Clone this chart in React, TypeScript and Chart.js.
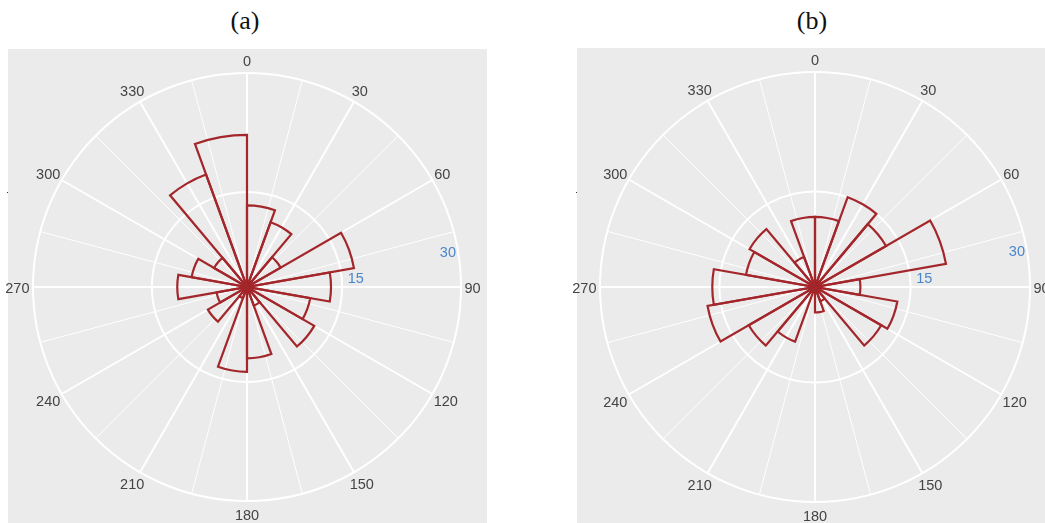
import React, { useEffect, useRef } from 'react';
import { Chart, registerables } from 'chart.js';

Chart.register(...registerables);

// Angular grid: a spoke every 15 degrees (clockwise from north), labels every 30
const directionTicks = [
  '0', '15', '30', '45', '60', '75', '90', '105', '120', '135', '150', '165',
  '180', '195', '210', '225', '240', '255', '270', '285', '300', '315', '330', '345',
];
const shownDirections = ['0', '30', '60', '90', '120', '150', '180', '210', '240', '270', '300', '330'];

// 18 direction bins of 20 degrees: 0-20, 20-40, ..., 340-360
const binStarts = [0, 20, 40, 60, 80, 100, 120, 140, 160, 180, 200, 220, 240, 260, 280, 300, 320, 340];

// Panel (a) counts per bin
const countsA = [13.3, 11.7, 7.9, 16.7, 13.6, 11.1, 12.8, 5.5, 12.0, 13.7, 4.5, 8.7, 6.9, 11.8, 10.1, 7.8, 18.1, 22.2];
// Panel (b) counts per bin
const countsB = [11.8, 15.0, 13.3, 19.7, 8.7, 13.5, 12.6, 4.9, 6.2, 3.5, 10.3, 12.6, 16.7, 15.9, 11.8, 12.5, 7.0, 11.8];

// Radial axis
const radialMin = 3;
const radialMax = 30;
const radialTicks = [15, 30];

const titles = ['(a)', '(b)'];

const BAR_COLOR = '#a3262b';
const GRID_COLOR = '#ffffff';
const PANEL_BG = '#ebebeb';
const TEXT_COLOR = '#444444';
const TICK_COLOR = '#4a86cc';
const FONT = '14.5px "Liberation Sans", Arial, Helvetica, sans-serif';

const panelBg = {
  id: 'panelBg',
  beforeDraw(chart: any, _args: any, opts: any) {
    const ctx = chart.ctx;
    ctx.save();
    ctx.fillStyle = PANEL_BG;
    ctx.fillRect(opts.x, opts.y, chart.width - opts.x - (opts.rightGap || 0), chart.height - opts.y);
    // small axis tick remnant at the panel's left edge
    ctx.fillStyle = '#333';
    ctx.fillRect(opts.x - 1, opts.dotY, 1, 1);
    ctx.restore();
  },
};

const roseLabels = {
  id: 'roseLabels',
  afterDraw(chart: any) {
    const s = chart.scales.r;
    const ctx = chart.ctx;
    const R = s.getDistanceFromCenterForValue(radialMax);
    ctx.save();
    ctx.font = FONT;
    ctx.textAlign = 'center';
    ctx.textBaseline = 'middle';
    ctx.fillStyle = TEXT_COLOR;
    shownDirections.forEach((lab) => {
      const th = (Number(lab) * Math.PI) / 180;
      const w = ctx.measureText(lab).width;
      const sn = Math.sin(th);
      const cs = Math.cos(th);
      const x = s.xCenter + (R + 3.5) * sn + (sn * w) / 2;
      const y = s.yCenter - (R + 8) * cs - cs * 5 + 1.5;
      ctx.fillText(lab, x, y);
    });
    // radial tick labels
    ctx.fillStyle = TICK_COLOR;
    const place = [
      { v: radialTicks[0], off: 14, ang: 85.4 },
      { v: radialTicks[1], off: -10, ang: 80 },
    ];
    place.forEach((p) => {
      const d = s.getDistanceFromCenterForValue(p.v) + p.off;
      const th = (p.ang * Math.PI) / 180;
      ctx.fillText(String(p.v), s.xCenter + d * Math.sin(th), s.yCenter - d * Math.cos(th) + 1);
    });
    ctx.restore();
  },
};

function Rose(props: {
  values: number[];
  left: number;
  top: number;
  width: number;
  height: number;
  pad: any;
  bg: any;
}) {
  const ref = useRef<HTMLCanvasElement | null>(null);
  useEffect(() => {
    if (!ref.current) return;
    const chart = new Chart(ref.current, {
      type: 'polarArea',
      data: {
        labels: directionTicks,
        datasets: [
          {
            label: 'bins ' + binStarts.join(','),
            data: props.values,
            backgroundColor: 'rgba(0,0,0,0)',
            borderColor: BAR_COLOR,
            borderWidth: 2.2,
            borderJoinStyle: 'miter',
          } as any,
        ],
      },
      options: {
        animation: false,
        responsive: false,
        maintainAspectRatio: false,
        events: [],
        layout: { padding: props.pad },
        plugins: {
          legend: { display: false },
          tooltip: { enabled: false },
          title: { display: false },
          panelBg: props.bg,
        } as any,
        scales: {
          r: {
            min: radialMin,
            max: radialMax,
            startAngle: 0,
            ticks: { display: false },
            afterBuildTicks: (scale: any) => {
              scale.ticks = [radialMin, ...radialTicks].map((v) => ({ value: v }));
            },
            grid: { display: true, color: GRID_COLOR, lineWidth: 2, circular: true },
            angleLines: {
              display: true,
              color: GRID_COLOR,
              lineWidth: (c: any) => (c.index % 2 === 0 ? 2 : 1),
            },
            pointLabels: { display: false },
          } as any,
        },
      },
      plugins: [panelBg, roseLabels],
    });
    return () => chart.destroy();
  }, []);
  return (
    <canvas
      ref={ref}
      width={props.width}
      height={props.height}
      style={{
        position: 'absolute',
        left: props.left,
        top: props.top,
        width: props.width,
        height: props.height,
        display: 'block',
      }}
    />
  );
}

const titleStyle: any = {
  position: 'absolute',
  top: 8,
  width: 100,
  textAlign: 'center',
  fontFamily: '"Liberation Serif", "Times New Roman", serif',
  fontSize: 26,
  lineHeight: '26px',
  color: '#111',
};

export default function App() {
  return (
    <div
      style={{
        position: 'fixed',
        left: 0,
        top: 0,
        width: 1045,
        height: 523,
        overflow: 'hidden',
        background: '#ffffff',
      }}
    >
      <div style={{ ...titleStyle, left: 195 }}>{titles[0]}</div>
      <div style={{ ...titleStyle, left: 762 }}>{titles[1]}</div>
      <Rose
        values={countsA}
        left={0}
        top={48}
        width={490}
        height={475}
        pad={{ left: 33, right: 29, top: 25, bottom: 22 }}
        bg={{ x: 8, y: 1, rightGap: 3, dotY: 144 }}
      />
      <Rose
        values={countsB}
        left={560}
        top={48}
        width={485}
        height={475}
        pad={{ left: 40, right: 15, top: 24, bottom: 21 }}
        bg={{ x: 17, y: 0, rightGap: 0, dotY: 144 }}
      />
    </div>
  );
}
